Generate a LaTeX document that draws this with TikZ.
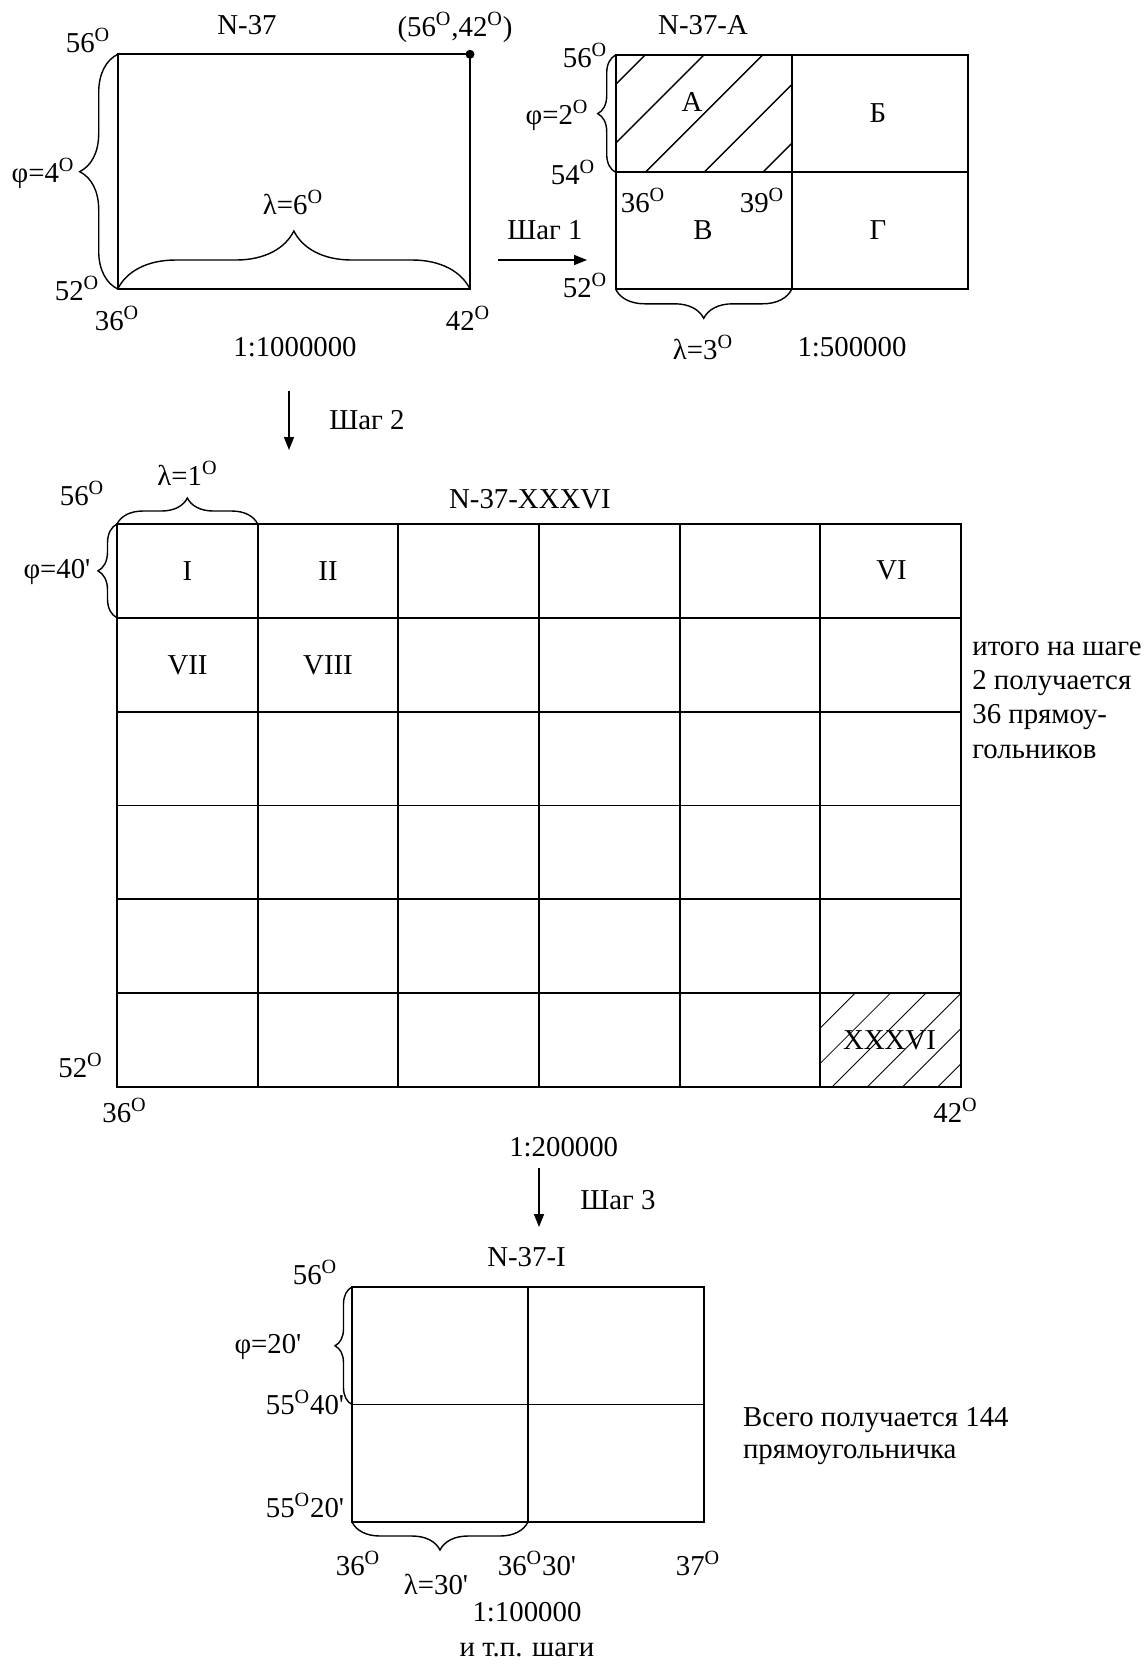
\documentclass[tikz,border=0pt]{standalone}
\usepackage{fontspec}
\setmainfont{Liberation Serif}[Ligatures=TeXOff]
\usepackage{tikz}
\usetikzlibrary{arrows.meta,decorations.pathreplacing}
\newcommand{\gr}{\textsuperscript{O}}

\begin{document}
\begin{tikzpicture}[
  x=0.02cm, y=-0.02cm,
  every node/.style={font=\fontsize{16.4}{20}\selectfont, inner sep=0pt},
  frame/.style={line width=1.05pt},
  hatch/.style={line width=0.8pt},
  curly/.style={decorate, decoration={brace, amplitude=#1}, line width=0.8pt},
  steparrow/.style={-{Triangle[length=2.6mm, width=2mm]}, line width=0.9pt},
  dot/.style={circle, fill=black, minimum size=1.8mm, inner sep=0pt}
]
\useasboundingbox (0,0) rectangle (1148,1664);

% Sheet N-37, 1:1000000.
\draw[frame] (117.7,54.3) rectangle (470,289);
\draw[curly=7.6mm] (117.7,289) -- (117.7,54.3);
\draw[curly=11.6mm] (117.7,289) -- (470,289);
\node (sheetname) at (247,25) {N-37};
\node (cornerlbl) at (455,27) {(56\gr,42\gr)};
\node[dot] (corner) at (470,54.3) {};
\node (sheetlatN) at (88,40) {56\gr};
\node (sheetphi) at (43,173) {φ=4\gr};
\node (sheetlam) at (293,202) {λ=6\gr};
\node (sheetlatS) at (77,288) {52\gr};
\node (sheetlonW) at (117,318) {36\gr};
\node (sheetlonE) at (468,318) {42\gr};
\node (sheetscale) at (295,347) {1:1000000};

% Step 1: four sheets of 1:500000.
\coordinate (arrowAfrom) at (498,260);
\coordinate (arrowAto) at (587,260);
\draw[steparrow] (arrowAfrom) -- (arrowAto);
\node (stepA) at (545,230) {Шаг 1};
\begin{scope}
  \clip (615.7,55) rectangle (791.7,172.3);
  \foreach \k in {0,...,4}
    \draw[hatch] ({700+\k*58.75-190},190) -- ({700+\k*58.75-40},40);
\end{scope}
\draw[frame] (615.7,55) rectangle (967.7,289.3);
\draw[frame] (791.7,55) -- (791.7,289.3);
\draw[frame] (615.7,172.3) -- (967.7,172.3);
\draw[curly=3.6mm] (615.7,172.3) -- (615.7,55);
\draw[curly=5.8mm] (791.7,289.3) -- (615.7,289.3);
\node (halfname) at (703,25) {N-37-A};
\node (halflatN) at (585,55) {56\gr};
\node (halfphi) at (557,115) {φ=2\gr};
\node (halflatM) at (573,172) {54\gr};
\node (halflonW) at (643,200) {36\gr};
\node (halflonM) at (762,200) {39\gr};
\node (cellA) at (692,102) {А};
\node (cellB) at (878,113) {Б};
\node (cellV) at (703,230) {В};
\node (cellG) at (878,230) {Г};
\node (halflatS) at (585,285) {52\gr};
\node (halflam) at (703,347) {λ=3\gr};
\node (halfscale) at (852,347) {1:500000};

% Step 2: 6x6 sheets of 1:200000.
\coordinate (arrowBfrom) at (289,391);
\coordinate (arrowBto) at (289,450);
\draw[steparrow] (arrowBfrom) -- (arrowBto);
\node (stepB) at (367,420) {Шаг 2};
\begin{scope}
  \clip (820.7,993.3) rectangle (961,1087);
  \foreach \k in {0,...,5}
    \draw[line width=0.5pt] ({1848.3+\k*35.3-1100},1100) -- ({1848.3+\k*35.3-980},980);
\end{scope}
\foreach \i in {1,...,5}
  \draw[frame] ({117+\i*140.67},524) -- ({117+\i*140.67},1087);
\foreach \j in {1,...,5}
  \draw[frame] (117,{524+\j*93.83}) -- (961,{524+\j*93.83});
\draw[frame] (117,524) rectangle (961,1087);
\draw[curly=5.2mm] (117,524) -- (257.7,524);
\draw[curly=3.8mm] (117,617.8) -- (117,524);
\node (gridname) at (530,499) {N-37-XXXVI};
\node (gridlam) at (187.5,473) {λ=1\gr};
\node (gridlatN) at (82,493) {56\gr};
\node (gridphi) at (57,572) {φ=40'};
\node (cellI) at (187.5,571) {I};
\node (cellII) at (328,571) {II};
\node (cellVI) at (891.5,570) {VI};
\node (cellVII) at (187.5,665) {VII};
\node (cellVIII) at (328,665) {VIII};
\node (cellXXXVI) at (889.5,1040) {XXXVI};
\node (gridlatS) at (80.5,1065) {52\gr};
\node (gridlonW) at (124.5,1110) {36\gr};
\node (gridlonE) at (955.5,1110) {42\gr};
\node (gridscale) at (563.7,1147) {1:200000};
\node[anchor=west, align=left] (gridnote) at (972,700)
  {итого на шаге\\[-0.5pt]2 получается\\[-0.5pt]36 прямоу-\\[-0.5pt]гольников};

% Step 3: sheets of 1:100000.
\coordinate (arrowCfrom) at (539,1168);
\coordinate (arrowCto) at (539,1227);
\draw[steparrow] (arrowCfrom) -- (arrowCto);
\node (stepC) at (618,1200) {Шаг 3};
\draw[frame] (352,1287) rectangle (704,1522);
\draw[frame] (528,1287) -- (528,1522);
\draw[frame] (352,1404.5) -- (704,1404.5);
\draw[curly=3.4mm] (352,1404.5) -- (352,1287);
\draw[curly=5.6mm] (528,1522) -- (352,1522);
\node (lastname) at (526.5,1257) {N-37-I};
\node (lastlatN) at (315,1272) {56\gr};
\node (lastphi) at (268,1347) {φ=20'};
\node (lastlatM) at (305,1402) {55\gr40'};
\node (lastlatS) at (305,1505) {55\gr20'};
\node (lastlonW) at (358,1563) {36\gr};
\node (lastlonM) at (537,1563) {36\gr30'};
\node (lastlonE) at (698,1563) {37\gr};
\node (lastlam) at (436,1584) {λ=30'};
\node (lastscale) at (527,1612) {1:100000};
\node (etc) at (527,1650) {и т.п. шаги};
\node[anchor=west, align=left] (lastnote) at (742.7,1436)
  {Всего получается 144\\[-2pt]прямоугольничка};
\end{tikzpicture}
\end{document}
